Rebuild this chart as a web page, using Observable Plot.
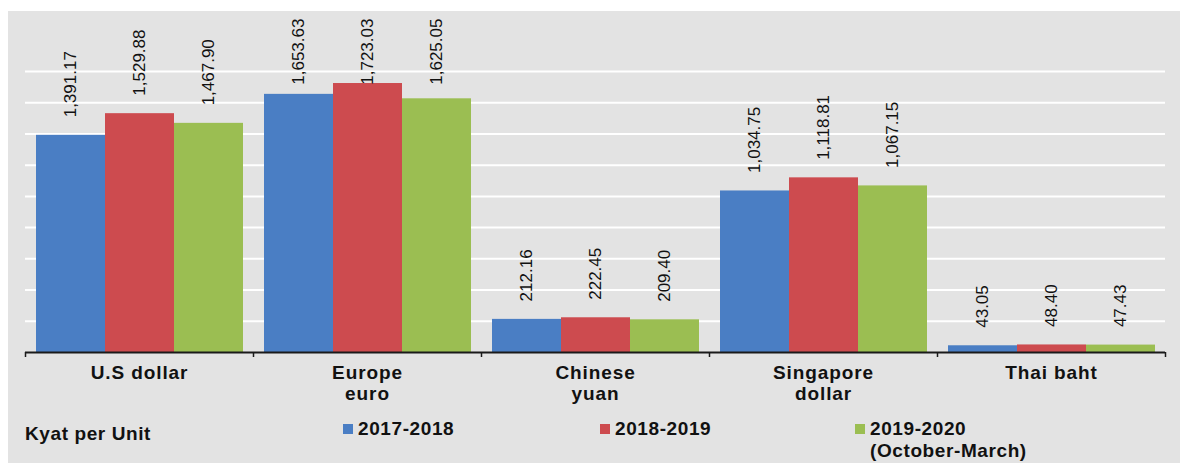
<!DOCTYPE html>
<html>
<head>
<meta charset="utf-8">
<script src="https://cdn.jsdelivr.net/npm/d3@7"></script>
<script src="https://cdn.jsdelivr.net/npm/@observablehq/plot@0.6"></script>
<style>
  html, body { margin: 0; padding: 0; background: #ffffff; }
  body { width: 1180px; height: 463px; overflow: hidden; position: relative; font-family: "Liberation Sans", Arial, sans-serif; }
  #panel { position: absolute; left: 8px; top: 11px; width: 1172px; height: 452px; background: #e3e3e3; }
  #chart svg { display: block; overflow: visible; }
  g[aria-label="fx-axis tick label"] text { letter-spacing: 0.9px; }
  .leg { position: absolute; font-weight: bold; font-size: 19px; line-height: 22px; color: #111; letter-spacing: 0.6px; white-space: nowrap; }
  .sw { position: absolute; width: 10px; height: 10px; }
</style>
</head>
<body>
<div id="panel">
  <div id="chart"></div>
  <div class="leg" style="left:17px; top:412px;">Kyat per Unit</div>
  <div id="legend"></div>
</div>
<script>
// ---- data ----
const categories = ["U.S dollar", "Europe euro", "Chinese yuan", "Singapore dollar", "Thai baht"];
const categoryLabels = ["U.S dollar", "Europe\neuro", "Chinese\nyuan", "Singapore\ndollar", "Thai baht"];
const series = ["2017-2018", "2018-2019", "2019-2020 (October-March)"];
const seriesLabels = ["2017-2018", "2018-2019", "2019-2020\n(October-March)"];
const values2017_2018 = [1391.17, 1653.63, 212.16, 1034.75, 43.05];
const values2018_2019 = [1529.88, 1723.03, 222.45, 1118.81, 48.40];
const values2019_2020 = [1467.90, 1625.05, 209.40, 1067.15, 47.43];
const gridTicks = [200, 400, 600, 800, 1000, 1200, 1400, 1600, 1800];
const colors = ["#4A7EC4", "#CD4B4F", "#9BBE52"];

const seriesValues = [values2017_2018, values2018_2019, values2019_2020];
const rows = [];
categories.forEach((c, i) => {
  series.forEach((s, j) => rows.push({category: c, series: s, value: seriesValues[j][i]}));
});

// ---- layout ----
const W = 1172, H = 400, mL = 17, mR = 15, mT = 60, mB = 59;
const bandW = (W - mL - mR) / categories.length;
const labelCeiling = 1600; // labels of taller bars are held inside the chart area
const fmt = d3.format(",.2f");
const labelOf = new Map(categories.map((c, i) => [c, categoryLabels[i]]));

const chart = Plot.plot({
  width: W, height: H,
  marginLeft: mL, marginRight: mR, marginTop: mT, marginBottom: mB,
  style: {background: "transparent", fontFamily: "'Liberation Sans', Arial, sans-serif", color: "#111", overflow: "visible"},
  fx: {domain: categories, padding: 0, label: null},
  x: {domain: series, paddingInner: 0, paddingOuter: 0.15, axis: null},
  y: {domain: [0, 1800], axis: null},
  color: {domain: series, range: colors},
  marks: [
    Plot.gridY(gridTicks, {stroke: "#ffffff", strokeOpacity: 1, strokeWidth: 2}),
    Plot.barY(rows, {fx: "category", x: "series", y: "value", fill: "series"}),
    Plot.ruleY([0], {stroke: "#1a1a1a", strokeWidth: 2}),
    Plot.text(rows, {
      fx: "category", x: "series",
      y: d => Math.min(d.value, labelCeiling),
      text: d => fmt(d.value),
      rotate: -90, textAnchor: "start", lineAnchor: "middle",
      dy: -18, fontSize: 17, fill: "#111"
    }),
    Plot.axisFx({anchor: "bottom", tickSize: 0, tickPadding: 12, fontSize: 19, fontWeight: "bold",
      lineHeight: 1.08, tickFormat: c => labelOf.get(c), label: null, fill: "#111"}),
    Plot.axisFx({anchor: "bottom", tickSize: 5, tickFormat: () => "", label: null, dx: -bandW / 2, stroke: "#1a1a1a", strokeWidth: 1.5}),
    Plot.axisFx({anchor: "bottom", ticks: [categories[categories.length - 1]], tickSize: 5, tickFormat: () => "", label: null, dx: bandW / 2, stroke: "#1a1a1a", strokeWidth: 1.5})
  ]
});
document.getElementById("chart").appendChild(chart);

// ---- legend (below the svg) ----
const legendPos = [335, 592, 847];
const legend = document.getElementById("legend");
series.forEach((s, j) => {
  const sw = document.createElement("div");
  sw.className = "sw";
  sw.style.left = legendPos[j] + "px";
  sw.style.top = "413px";
  sw.style.background = colors[j];
  legend.appendChild(sw);
  const t = document.createElement("div");
  t.className = "leg";
  t.style.left = (legendPos[j] + 15) + "px";
  t.style.top = "407px";
  t.innerHTML = seriesLabels[j].split("\n").join("<br>");
  legend.appendChild(t);
});
</script>
</body>
</html>
